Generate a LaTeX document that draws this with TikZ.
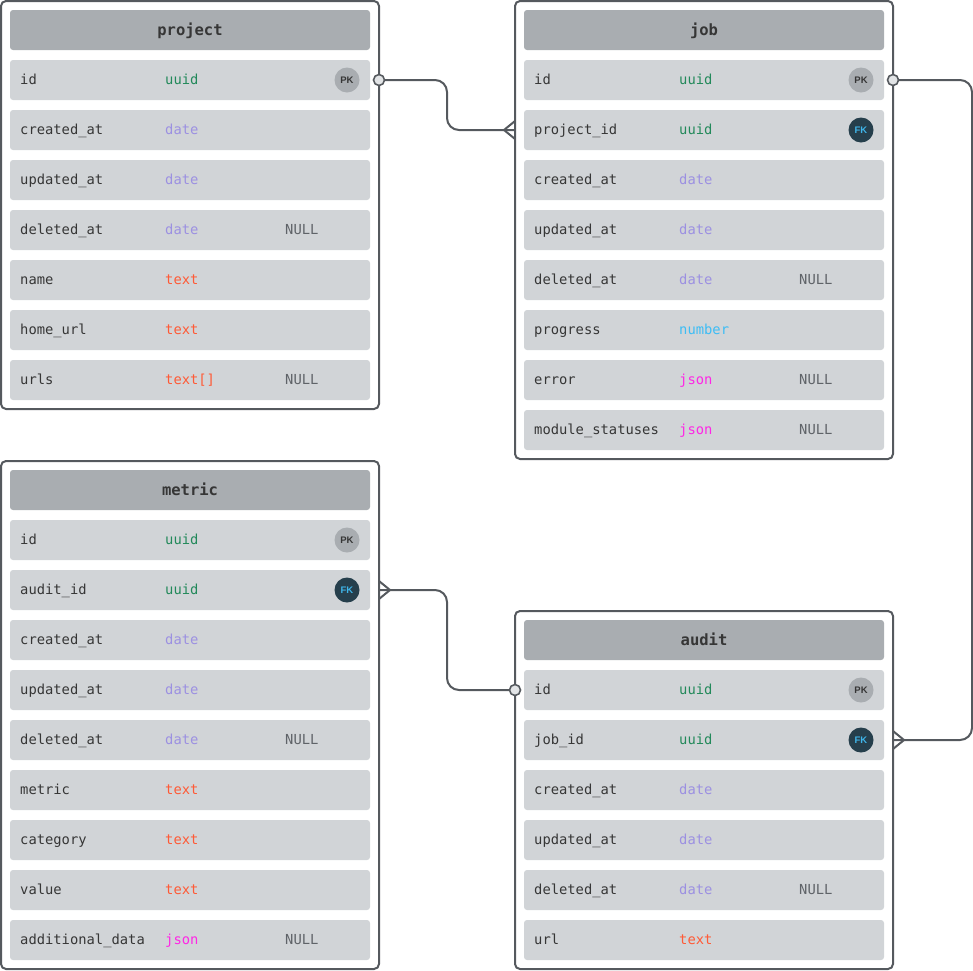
\documentclass[tikz,border=0pt]{standalone}
\usepackage{fontspec}
\setmonofont{DejaVu Sans Mono}
\setsansfont{Liberation Sans}
\usetikzlibrary{positioning}

\definecolor{edge}{HTML}{55595E}
\definecolor{headgray}{HTML}{A9ADB1}
\definecolor{rowgray}{HTML}{D1D4D7}
\definecolor{txt}{HTML}{363636}
\definecolor{nullc}{HTML}{5F6368}
\definecolor{uuidc}{HTML}{22895A}
\definecolor{datec}{HTML}{9C90E2}
\definecolor{textc}{HTML}{FF5A36}
\definecolor{numc}{HTML}{3DBDF5}
\definecolor{jsonc}{HTML}{FF26E6}
\definecolor{fkfill}{HTML}{263F4C}
\definecolor{fktext}{HTML}{3FB5E9}
\definecolor{dotfill}{HTML}{E2E4E6}

\tikzset{
  tblbox/.style={draw=edge, line width=2pt, rounded corners=5pt, outer sep=0pt, inner sep=0pt, anchor=north west},
  row/.style={fill=rowgray, rounded corners=3pt, minimum width=360pt, minimum height=40pt, inner sep=0pt, outer sep=0pt, anchor=north west},
  head/.style={row, fill=headgray, text height=11pt, text depth=0pt, font=\ttfamily\bfseries\fontsize{15.5}{18}\selectfont, text=txt},
  fname/.style={anchor=west, inner sep=0pt, text height=10pt, text depth=0.5pt, font=\ttfamily\fontsize{13.8}{16}\selectfont, text=txt},
  ftype/.style={fname},
  nul/.style={fname, text=nullc},
  pk/.style={circle, fill=headgray, minimum size=25pt, inner sep=0pt, font=\sffamily\bfseries\fontsize{9.5}{10}\selectfont, text=txt},
  fk/.style={pk, fill=fkfill, text=fktext},
  link/.style={draw=edge, line width=2pt, rounded corners=12pt},
  dot/.style={circle, draw=edge, fill=dotfill, line width=1.6pt, minimum size=11pt, inner sep=0pt},
}

\begin{document}
\begin{tikzpicture}[x=1pt,y=-1pt]

	\useasboundingbox (0,0) rectangle (973,970);

	% tables
	\node[tblbox, minimum width=378pt, minimum height=408pt] (project) at (1,1) {};
	\node[tblbox, minimum width=378pt, minimum height=458pt] (job) at (515,1) {};
	\node[tblbox, minimum width=378pt, minimum height=508pt] (metric) at (1,461) {};
	\node[tblbox, minimum width=378pt, minimum height=358pt] (audit) at (515,611) {};

	\node[head] (project-h) at (10,10) {project};
	\node[head] (job-h) at (524,10) {job};
	\node[head] (metric-h) at (10,470) {metric};
	\node[head] (audit-h) at (524,620) {audit};

	% project rows
	\foreach \f/\t/\c [count=\i] in {id/uuid/uuidc, created\_at/date/datec, updated\_at/date/datec,
		deleted\_at/date/datec, name/text/textc, home\_url/text/textc, urls/text[]/textc} {
		\node[row] (project-\i) at (10,10+50*\i) {};
		\node[fname] (project-\i-n) at ([xshift=10pt]project-\i.west) {\f};
		\node[ftype, text=\c] (project-\i-t) at ([xshift=155pt]project-\i.west) {\t};
	}
	\foreach \i in {4,7}
		\node[nul] (project-\i-null) at ([xshift=275pt]project-\i.west) {NULL};
	\node[pk] (project-pk) at ([xshift=-23pt]project-1.east) {PK};

	% job rows
	\foreach \f/\t/\c [count=\i] in {id/uuid/uuidc, project\_id/uuid/uuidc, created\_at/date/datec,
		updated\_at/date/datec, deleted\_at/date/datec, progress/number/numc, error/json/jsonc,
		module\_statuses/json/jsonc} {
		\node[row] (job-\i) at (524,10+50*\i) {};
		\node[fname] (job-\i-n) at ([xshift=10pt]job-\i.west) {\f};
		\node[ftype, text=\c] (job-\i-t) at ([xshift=155pt]job-\i.west) {\t};
	}
	\foreach \i in {5,7,8}
		\node[nul] (job-\i-null) at ([xshift=275pt]job-\i.west) {NULL};
	\node[pk] (job-pk) at ([xshift=-23pt]job-1.east) {PK};
	\node[fk] (job-fk) at ([xshift=-23pt]job-2.east) {FK};

	% metric rows
	\foreach \f/\t/\c [count=\i] in {id/uuid/uuidc, audit\_id/uuid/uuidc, created\_at/date/datec,
		updated\_at/date/datec, deleted\_at/date/datec, metric/text/textc, category/text/textc,
		value/text/textc, additional\_data/json/jsonc} {
		\node[row] (metric-\i) at (10,470+50*\i) {};
		\node[fname] (metric-\i-n) at ([xshift=10pt]metric-\i.west) {\f};
		\node[ftype, text=\c] (metric-\i-t) at ([xshift=155pt]metric-\i.west) {\t};
	}
	\foreach \i in {5,9}
		\node[nul] (metric-\i-null) at ([xshift=275pt]metric-\i.west) {NULL};
	\node[pk] (metric-pk) at ([xshift=-23pt]metric-1.east) {PK};
	\node[fk] (metric-fk) at ([xshift=-23pt]metric-2.east) {FK};

	% audit rows
	\foreach \f/\t/\c [count=\i] in {id/uuid/uuidc, job\_id/uuid/uuidc, created\_at/date/datec,
		updated\_at/date/datec, deleted\_at/date/datec, url/text/textc} {
		\node[row] (audit-\i) at (524,620+50*\i) {};
		\node[fname] (audit-\i-n) at ([xshift=10pt]audit-\i.west) {\f};
		\node[ftype, text=\c] (audit-\i-t) at ([xshift=155pt]audit-\i.west) {\t};
	}
	\node[nul] (audit-5-null) at ([xshift=275pt]audit-5.west) {NULL};
	\node[pk] (audit-pk) at ([xshift=-23pt]audit-1.east) {PK};
	\node[fk] (audit-fk) at ([xshift=-23pt]audit-2.east) {FK};

	% relations
	\draw[link] (project.east |- project-1) -- ++(68,0) |- (job.west |- job-2);
	\draw[link] (job.east |- job-1) -- ++(79,0) |- (audit.east |- audit-2);
	\draw[link] (metric.east |- metric-2) -- ++(68,0) |- (audit.west |- audit-1);

	% crow's feet
	\draw[draw=edge, line width=2pt] (job.west |- job-2) ++(-11,0) -- ++(11,-9)
		(job.west |- job-2) ++(-11,0) -- ++(11,9);
	\draw[draw=edge, line width=2pt] (audit.east |- audit-2) ++(11,0) -- ++(-11,-9)
		(audit.east |- audit-2) ++(11,0) -- ++(-11,9);
	\draw[draw=edge, line width=2pt] (metric.east |- metric-2) ++(11,0) -- ++(-11,-9)
		(metric.east |- metric-2) ++(11,0) -- ++(-11,9);

	% one ends
	\node[dot] (project-end) at (project.east |- project-1) {};
	\node[dot] (job-end) at (job.east |- job-1) {};
	\node[dot] (audit-end) at (audit.west |- audit-1) {};

\end{tikzpicture}
\end{document}
